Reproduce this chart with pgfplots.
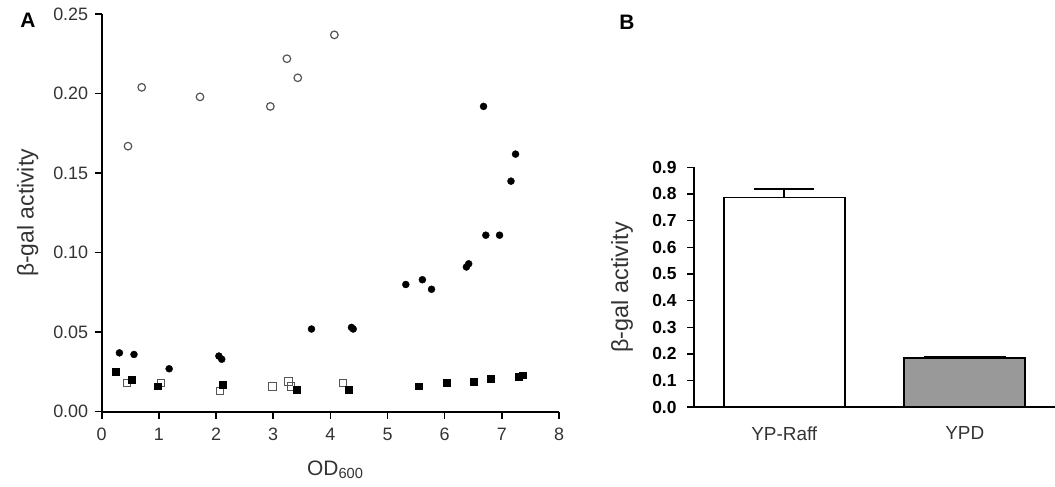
\documentclass[border=0pt]{standalone}
\usepackage{fontspec}
\setmainfont{Liberation Sans}
\usepackage{pgfplots}
\pgfplotsset{compat=1.18}
\definecolor{ogray}{HTML}{555555}
\definecolor{tgray}{HTML}{333333}
\definecolor{bgray}{HTML}{999999}
\begin{document}
\begin{tikzpicture}
\useasboundingbox (0,0) rectangle (1055bp,487bp);
% Panel A
\begin{axis}[
  at={(101.7bp,75.3bp)}, anchor=south west,
  scale only axis, width=457.3bp, height=397.5bp,
  xmin=0, xmax=8, ymin=0, ymax=0.25,
  clip=false,
  axis lines=left, axis line style={-, line width=1.8bp, black},
  tick align=outside, major tick length=7bp,
  tick style={line width=1.6bp, black},
  xtick={0,1,2,3,4,5,6,7,8},
  ytick={0,0.05,0.10,0.15,0.20,0.25},
  /pgf/number format/assume math mode=true,
  yticklabel style={/pgf/number format/fixed, /pgf/number format/fixed zerofill, /pgf/number format/precision=2, xshift=-3bp},
  xticklabel style={yshift=-6bp},
  tick label style={font=\fontsize{18}{18}\selectfont, text=tgray},
  xlabel={OD\textsubscript{600}},
  ylabel={β-gal activity},
  xlabel style={font=\fontsize{21}{21}\selectfont, text=tgray, at={(axis description cs:0.5,0)}, anchor=center, yshift=-58bp, xshift=5bp},
  ylabel style={font=\fontsize{23}{23}\selectfont, text=tgray, at={(axis description cs:0,0.5)}, anchor=center, yshift=74bp},
]
\addplot[only marks, mark=square, mark size=3.8bp, mark options={draw=ogray, line width=1.1bp, fill=white}] coordinates {
(0.44,0.018) (1.04,0.018) (2.07,0.013) (2.99,0.016) (3.27,0.019) (3.31,0.016) (4.22,0.018)
};
\addplot[only marks, mark=square*, mark size=3.4bp, mark options={draw=black, fill=black}] coordinates {
(0.25,0.025) (0.52,0.020) (0.98,0.016) (2.11,0.017) (3.41,0.014) (4.32,0.014)
(5.55,0.016) (6.03,0.018) (6.51,0.019) (6.80,0.021) (7.30,0.022) (7.37,0.023)
};
\addplot[only marks, mark=*, mark size=3.5bp, mark options={draw=black, fill=black}] coordinates {
(0.31,0.037) (0.565,0.036) (1.18,0.027) (2.05,0.035) (2.10,0.033) (3.67,0.052)
(4.37,0.053) (4.40,0.052) (5.32,0.080) (5.61,0.083) (5.77,0.077) (6.38,0.091)
(6.42,0.093) (6.68,0.192) (6.72,0.111) (6.96,0.111) (7.16,0.145) (7.24,0.162)
};
\addplot[only marks, mark=o, mark size=3.8bp, mark options={draw=ogray, line width=1.2bp}] coordinates {
(0.46,0.167) (0.70,0.204) (1.72,0.198) (2.95,0.192) (3.24,0.222) (3.43,0.210) (4.07,0.237)
};
\end{axis}
% Panel B
\begin{axis}[
  at={(694bp,79.7bp)}, anchor=south west,
  scale only axis, width=361bp, height=240bp,
  xmin=-0.5, xmax=1.5, ymin=0, ymax=0.9,
  clip=false,
  axis lines=left, axis line style={-, line width=1.8bp, black},
  tick align=outside, major tick length=7bp,
  tick style={line width=1.6bp, black},
  xtick={0,1}, xticklabels={YP-Raff,YPD},
  xtick style={draw=none},
  ytick={0,0.1,0.2,0.3,0.4,0.5,0.6,0.7,0.8,0.9},
  /pgf/number format/assume math mode=true,
  yticklabel style={/pgf/number format/fixed, /pgf/number format/fixed zerofill, /pgf/number format/precision=1, font=\bfseries\fontsize{17.5}{17.5}\selectfont, text=black, xshift=-7bp},
  xticklabel style={font=\fontsize{19}{19}\selectfont, text=tgray, yshift=-9bp},
  ylabel={β-gal activity},
  ylabel style={font=\fontsize{23.5}{23.5}\selectfont, text=tgray, at={(axis description cs:0,0.5)}, anchor=center, yshift=72bp},
]
\addplot[ybar, bar width=121bp, bar shift=0pt, fill=white, draw=black, line width=1.8bp,
  error bars/.cd, y dir=plus, y explicit,
  error bar style={line width=1.8bp, black},
  error mark options={rotate=90, mark size=30bp, line width=1.8bp, black}]
  coordinates {(0,0.787) +- (0,0.031)};
\addplot[ybar, bar width=121bp, bar shift=0pt, fill=bgray, draw=black, line width=1.8bp,
  error bars/.cd, y dir=plus, y explicit,
  error bar style={line width=1.8bp, black},
  error mark options={rotate=90, mark size=41bp, line width=1.8bp, black}]
  coordinates {(1,0.184) +- (0,0.006)};
\end{axis}
\node[font=\bfseries\fontsize{21}{21}\selectfont] at (28bp,467bp) {A};
\node[font=\bfseries\fontsize{21}{21}\selectfont] at (627bp,465bp) {B};
\end{tikzpicture}
\end{document}
